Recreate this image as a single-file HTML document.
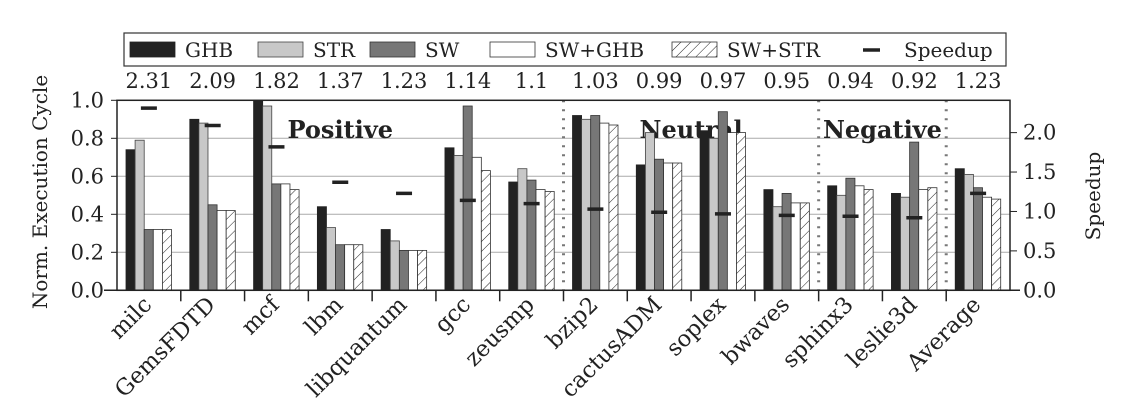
<!DOCTYPE html>
<html><head><meta charset="utf-8"><style>
body{margin:0;background:#fff;}
svg text{font-family:"DejaVu Serif","Liberation Serif",serif;fill:#222;}
</style></head><body>
<svg id="chart" width="1126" height="414" xmlns="http://www.w3.org/2000/svg">
<defs><pattern id="hatch" width="7" height="7" patternUnits="userSpaceOnUse" patternTransform="rotate(45)"><rect width="7" height="7" fill="#fff"/><line x1="0" y1="0" x2="0" y2="7" stroke="#222" stroke-width="1"/></pattern></defs>
<g id="grid"></g><g id="bars"></g><g id="axes"></g>
</svg>
<script>
const categories=["milc","GemsFDTD","mcf","lbm","libquantum","gcc","zeusmp","bzip2","cactusADM","soplex","bwaves","sphinx3","leslie3d","Average"];
const ghb=[0.74,0.90,1.00,0.44,0.32,0.75,0.57,0.92,0.66,0.84,0.53,0.55,0.51,0.64];
const str=[0.79,0.88,0.97,0.33,0.26,0.71,0.64,0.90,0.83,0.80,0.44,0.50,0.49,0.61];
const sw=[0.32,0.45,0.56,0.24,0.21,0.97,0.58,0.92,0.69,0.94,0.51,0.59,0.78,0.54];
const swghb=[0.32,0.42,0.56,0.24,0.21,0.70,0.53,0.88,0.67,0.83,0.46,0.55,0.53,0.49];
const swstr=[0.32,0.42,0.53,0.24,0.21,0.63,0.52,0.87,0.67,0.83,0.46,0.53,0.54,0.48];
const speedup=[2.31,2.09,1.82,1.37,1.23,1.14,1.1,1.03,0.99,0.97,0.95,0.94,0.92,1.23];
const leftTicks=["0.0","0.2","0.4","0.6","0.8","1.0"];
const rightTicks=["0.0","0.5","1.0","1.5","2.0"];
const regions=[["Positive",3.5],["Neutral",9],["Negative",12]];
const dividers=[7,11,13];

const NS="http://www.w3.org/2000/svg";
const X0=117,X1=1010,Y0=290.3,Y1=100.3,RMAX=2.41;
const GW=(X1-X0)/categories.length,BW=9.1;
const yL=v=>Y0-v*(Y0-Y1);
const yR=v=>Y0-v/RMAX*(Y0-Y1);
const xG=i=>X0+i*GW;
const FS=21;
function mk(tag,attrs,parent,txt){const e=document.createElementNS(NS,tag);for(const k in attrs)e.setAttribute(k,attrs[k]);if(txt!==undefined)e.textContent=txt;(typeof parent==='string'?document.getElementById(parent):parent).appendChild(e);return e;}
// grid
leftTicks.forEach(t=>{const v=parseFloat(t);if(v>0&&v<1){const l=mk('line',{x1:X0,x2:X1,y1:yL(v),y2:yL(v),stroke:'#aaa','stroke-width':1},'grid');

}});
dividers.forEach(d=>{const l=mk('line',{x1:xG(d),x2:xG(d),y1:Y1,y2:Y0,stroke:'#777','stroke-width':3,'stroke-dasharray':'2,7'},'grid');

});
regions.forEach(r=>{const t=mk('text',{x:xG(r[1]),y:138,'text-anchor':'middle','font-size':24,'font-weight':'bold'},'grid',r[0]);

});
// bars
const series=[[ghb,'#222','#222'],[str,'#c8c8c8','#444'],[sw,'#777','#333'],[swghb,'#fff','#333'],[swstr,'url(#hatch)','#333']];
const snames=['ghb','str','sw','sw-ghb','sw-str'];
categories.forEach((c,i)=>{
  series.forEach((s,j)=>{const v=s[0][i];const r=mk('rect',{x:xG(i)+9+j*BW,y:yL(v),width:BW,height:Y0-yL(v),fill:s[1],stroke:s[2],'stroke-width':0.8},'bars');
  
  });
  const m=mk('line',{x1:xG(i)+GW/2-8,x2:xG(i)+GW/2+8,y1:yR(speedup[i]),y2:yR(speedup[i]),stroke:'#222','stroke-width':3.5},'bars');
  
  
  const t=mk('text',{x:xG(i)+GW/2,y:88,'text-anchor':'middle','font-size':FS},'axes',String(speedup[i]));
  
  
  const lb=mk('text',{x:0,y:0,'text-anchor':'end','font-size':22.5,transform:`translate(${xG(i)+GW/2+4},${306}) rotate(-45)`},'axes',c);
  
  
  if(i>0){const tk=mk('line',{x1:xG(i),x2:xG(i),y1:Y0,y2:Y0+11,stroke:'#222','stroke-width':1.5},'axes');
  
  }
});
// axes
const fr=mk('rect',{x:X0,y:Y1,width:X1-X0,height:Y0-Y1,fill:'none',stroke:'#222','stroke-width':1.5},'axes');


mk('line',{x1:104,x2:1020,y1:Y0,y2:Y0,stroke:'#222','stroke-width':1.5},'axes');
leftTicks.forEach(t=>{const v=parseFloat(t);mk('line',{x1:X0-6,x2:X0,y1:yL(v),y2:yL(v),stroke:'#222'},'axes');
const e=mk('text',{x:X0-13,y:yL(v)+7,'text-anchor':'end','font-size':FS},'axes',t);

});
rightTicks.forEach(t=>{const v=parseFloat(t);mk('line',{x1:X1,x2:X1+7,y1:yR(v),y2:yR(v),stroke:'#222'},'axes');
const e=mk('text',{x:X1+13,y:yR(v)+7,'font-size':FS},'axes',t);

});
const yt=mk('text',{x:0,y:0,'text-anchor':'middle','font-size':20,transform:'translate(47,192) rotate(-90)'},'axes','Norm. Execution Cycle');


const yt2=mk('text',{x:0,y:0,'text-anchor':'middle','font-size':20,transform:'translate(1100,196) rotate(-90)'},'axes','Speedup');


// legend
const lg=mk('g',{},'axes');


mk('rect',{x:124,y:33,width:882,height:33,fill:'#fff',stroke:'#333','stroke-width':1.2},lg);
const lnames=['GHB','STR','SW','SW+GHB','SW+STR'];
const lx=[130,258,370,490,672];
lnames.forEach((n,j)=>{const e=mk('g',{},lg);


mk('rect',{x:lx[j],y:42,width:45,height:15,fill:series[j][1],stroke:series[j][2],'stroke-width':0.8},e);
mk('text',{x:lx[j]+55,y:57,'font-size':20},e,n);});
const se=mk('g',{},lg);


mk('line',{x1:863,x2:880,y1:50,y2:50,stroke:'#222','stroke-width':3.5},se);
mk('text',{x:904,y:57,'font-size':20},se,'Speedup');
</script>
</body></html>
